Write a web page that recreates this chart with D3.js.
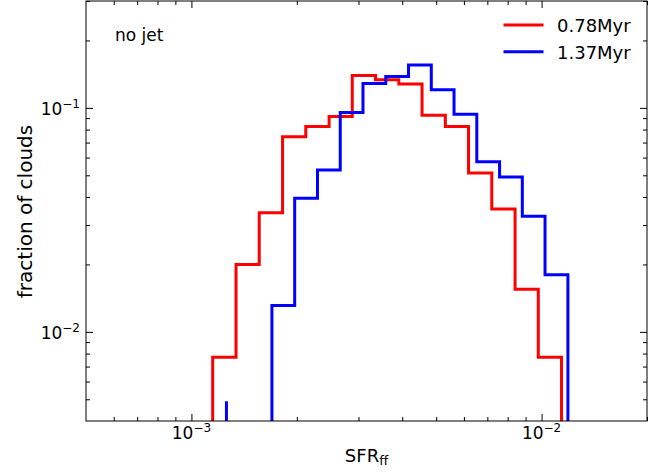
<!DOCTYPE html>
<meta charset="utf-8">
<style>
body { margin: 0; background: #fff; }
text { font-family: "DejaVu Sans", sans-serif; fill: #000; }
</style>
<svg width="662" height="472"></svg>
<script src="https://cdn.jsdelivr.net/npm/d3@7"></script>
<script>

// bin edges (SFR_ff) and fraction of clouds per bin
var redEdges = [1.150e-3, 1.341e-3, 1.562e-3, 1.821e-3, 2.121e-3, 2.473e-3, 2.880e-3, 3.355e-3,
	3.911e-3, 4.557e-3, 5.311e-3, 6.185e-3, 7.207e-3, 8.400e-3, 9.785e-3, 1.140e-2];
var redFrac = [0.0077, 0.0200, 0.0340, 0.0744, 0.0825, 0.0915, 0.1396, 0.1335,
	0.1277, 0.0928, 0.0825, 0.0512, 0.0354, 0.0155, 0.0077];

var blueEdges = [1.259e-3, 1.462e-3, 1.698e-3, 1.972e-3, 2.291e-3, 2.661e-3, 3.090e-3, 3.589e-3,
	4.169e-3, 4.842e-3, 5.623e-3, 6.531e-3, 7.586e-3, 8.810e-3, 1.023e-2, 1.189e-2];
var blueFrac = [0.0049, 0, 0.0131, 0.0395, 0.0528, 0.0953, 0.1286, 0.1382,
	0.1553, 0.1204, 0.0937, 0.0575, 0.0491, 0.0328, 0.0180];

var seriesNames = ["0.78Myr", "1.37Myr"];
var seriesColors = ["#ff0000", "#0000ff"];

var xDomain = [5e-4, 2e-2];
var yDomain = [4e-3, 0.3];
var xMajor = [1e-3, 1e-2], xMajorExp = ["−3", "−2"];
var xMinor = [6e-4, 7e-4, 8e-4, 9e-4, 2e-3, 3e-3, 4e-3, 5e-3, 6e-3, 7e-3, 8e-3, 9e-3, 2e-2];
var yMajor = [1e-2, 1e-1], yMajorExp = ["−2", "−1"];
var yMinor = [5e-3, 6e-3, 7e-3, 8e-3, 9e-3, 2e-2, 3e-2, 4e-2, 5e-2, 6e-2, 7e-2, 8e-2, 9e-2, 2e-1, 3e-1];

var svg = d3.select("svg"),
	pLeft = 86, pRight = 647, pTop = 1, pBottom = 421;

var x = d3.scaleLog().domain(xDomain).range([pLeft, pRight]);
var y = d3.scaleLog().domain(yDomain).range([pBottom, pTop]);

svg.append("clipPath").attr("id", "plot")
	.append("rect").attr("x", pLeft).attr("y", pTop)
	.attr("width", pRight - pLeft).attr("height", pBottom - pTop);

// step outline like the histtype="step" original; a bin right before an
// empty bin only shows its rising edge there
function stepPaths(edges, vals) {
	var paths = [], cur = null, low = pBottom + 50;
	vals.forEach(function(v, i) {
		if (v <= 0) {
			if (cur) { cur.length = Math.min(cur.length, 2); paths.push(cur); cur = null; }
			return;
		}
		if (!cur) cur = [[x(edges[i]), low]];
		cur.push([x(edges[i]), y(v)], [x(edges[i + 1]), y(v)]);
	});
	if (cur) { cur.push([x(edges[edges.length - 1]), low]); paths.push(cur); }
	return paths;
}

var hist = svg.append("g").attr("clip-path", "url(#plot)");
[[redEdges, redFrac], [blueEdges, blueFrac]].forEach(function(s, k) {
	hist.selectAll(null)
		.data(stepPaths(s[0], s[1]))
		.enter().append("path")
		.attr("d", d3.line())
		.attr("fill", "none")
		.attr("stroke", seriesColors[k])
		.attr("stroke-width", 3);
});

// ticks on all four sides, pointing in
function ticks(axis, scale, vals, size, tr) {
	svg.append("g").attr("transform", tr)
		.call(axis(scale).tickValues(vals).tickSize(-size).tickSizeOuter(0).tickFormat(""))
		.call(function(g) { g.select(".domain").remove(); g.selectAll("line").attr("stroke", "#000"); });
}
ticks(d3.axisBottom, x, xMajor, 7, "translate(0," + pBottom + ")");
ticks(d3.axisBottom, x, xMinor, 4, "translate(0," + pBottom + ")");
ticks(d3.axisTop, x, xMajor, 7, "translate(0," + pTop + ")");
ticks(d3.axisTop, x, xMinor, 4, "translate(0," + pTop + ")");
ticks(d3.axisLeft, y, yMajor, 7, "translate(" + pLeft + ",0)");
ticks(d3.axisLeft, y, yMinor, 4, "translate(" + pLeft + ",0)");
ticks(d3.axisRight, y, yMajor, 7, "translate(" + pRight + ",0)");
ticks(d3.axisRight, y, yMinor, 4, "translate(" + pRight + ",0)");

svg.append("rect")
	.attr("x", pLeft).attr("y", pTop)
	.attr("width", pRight - pLeft).attr("height", pBottom - pTop)
	.attr("fill", "none").attr("stroke", "#000").attr("stroke-width", 1);

// tick labels 10^n
function powLabel(sel) {
	sel.append("tspan").text("10");
	sel.append("tspan").attr("dy", -7).attr("font-size", 12).text(function(d, i) { return d.exp; });
}
svg.selectAll(".xlab")
	.data(xMajor.map(function(v, i) { return {v: v, exp: xMajorExp[i]}; }))
	.enter().append("text")
	.attr("x", function(d) { return x(d.v); })
	.attr("y", pBottom + 17.5)
	.attr("text-anchor", "middle")
	.attr("font-size", 17)
	.call(powLabel);

svg.selectAll(".ylab")
	.data(yMajor.map(function(v, i) { return {v: v, exp: yMajorExp[i]}; }))
	.enter().append("text")
	.attr("x", pLeft - 6)
	.attr("y", function(d) { return y(d.v) + 7; })
	.attr("text-anchor", "end")
	.attr("font-size", 17)
	.call(powLabel);

// axis titles
svg.append("text")
	.attr("transform", "translate(32,211.5) rotate(-90)")
	.attr("text-anchor", "middle")
	.attr("font-size", 20)
	.text("fraction of clouds");

var xt = svg.append("text")
	.attr("x", (pLeft + pRight) / 2)
	.attr("y", 462)
	.attr("text-anchor", "middle")
	.attr("font-size", 18);
xt.append("tspan").text("SFR");
xt.append("tspan").attr("dy", 3).attr("font-size", 13).text("ff");

svg.append("text")
	.attr("x", 115).attr("y", 41)
	.attr("font-size", 17)
	.text("no jet");

// legend
var leg = svg.append("g").selectAll("g")
	.data(seriesNames)
	.enter().append("g")
	.attr("transform", function(d, i) { return "translate(0," + (25 + i * 26.7) + ")"; });
leg.append("line")
	.attr("x1", 503.5).attr("x2", 543.5)
	.attr("stroke", function(d, i) { return seriesColors[i]; })
	.attr("stroke-width", 3);
leg.append("text")
	.attr("x", 557).attr("y", 7)
	.attr("font-size", 18)
	.text(function(d) { return d; });

</script>
